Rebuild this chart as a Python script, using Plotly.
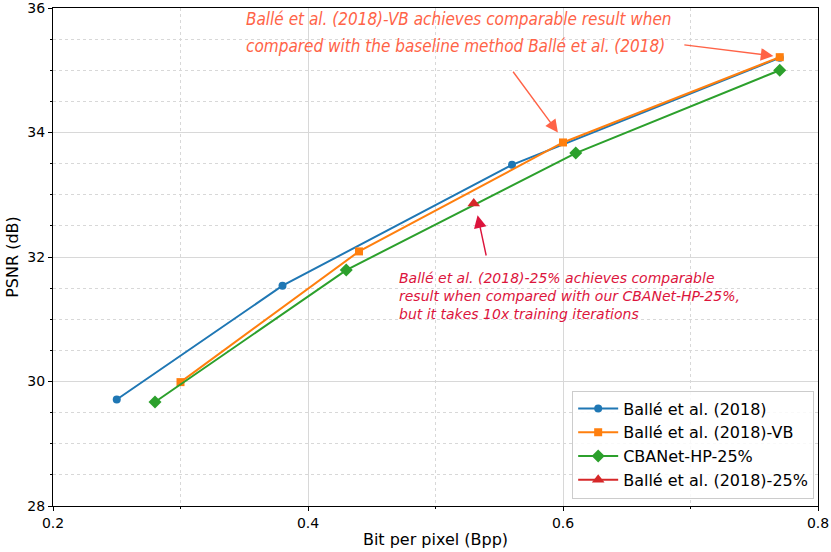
import plotly.graph_objects as go

# bit rate (bpp) / PSNR (dB)
balle_bpp = [0.25, 0.38, 0.56, 0.77]
balle_psnr = [29.71, 31.54, 33.48, 35.2]

balle_vb_bpp = [0.30, 0.44, 0.60, 0.77]
balle_vb_psnr = [29.99, 32.09, 33.84, 35.21]

cbanet_bpp = [0.28, 0.43, 0.61, 0.77]
cbanet_psnr = [29.67, 31.79, 33.67, 35.0]

balle25_bpp = [0.53]
balle25_psnr = [32.86]

names = ["Ballé et al. (2018)", "Ballé et al. (2018)-VB", "CBANet-HP-25%", "Ballé et al. (2018)-25%"]

FONT = "DejaVu Sans"
TOMATO = "#ff6347"
CRIMSON = "#dc143c"

fig = go.Figure()
fig.add_trace(go.Scatter(x=balle_bpp, y=balle_psnr, name=names[0], mode="lines+markers",
                         line=dict(color="#1f77b4", width=2), marker=dict(symbol="circle", size=8)))
fig.add_trace(go.Scatter(x=balle_vb_bpp, y=balle_vb_psnr, name=names[1], mode="lines+markers",
                         line=dict(color="#ff7f0e", width=2), marker=dict(symbol="square", size=8)))
fig.add_trace(go.Scatter(x=cbanet_bpp, y=cbanet_psnr, name=names[2], mode="lines+markers",
                         line=dict(color="#2ca02c", width=2), marker=dict(symbol="diamond", size=10)))
fig.add_trace(go.Scatter(x=balle25_bpp, y=balle25_psnr, name=names[3], mode="lines+markers",
                         line=dict(color="#d62728", width=2), marker=dict(symbol="triangle-up", size=11)))

# top annotation (two lines, two arrows)
top_lines = ["Ballé et al. (2018)-VB achieves comparable result when",
             "compared with the baseline method Ballé et al. (2018)"]
for txt, yy in zip(top_lines, [35.82, 35.39]):
    fig.add_annotation(x=0.35, y=yy, xref="x", yref="y", text=txt, showarrow=False,
                       xanchor="left", yanchor="middle",
                       font=dict(family="DejaVu Sans Condensed, " + FONT, size=17, color=TOMATO, style="italic"))
fig.add_annotation(x=0.765, y=35.23, ax=0.694, ay=35.41, xref="x", yref="y", axref="x", ayref="y",
                   text="", showarrow=True, arrowhead=2, arrowsize=1.8, arrowwidth=1.4, arrowcolor=TOMATO)
fig.add_annotation(x=0.596, y=34.0, ax=0.56, ay=35.0, xref="x", yref="y", axref="x", ayref="y",
                   text="", showarrow=True, arrowhead=2, arrowsize=1.8, arrowwidth=1.4, arrowcolor=TOMATO)

# red annotation
fig.add_annotation(x=0.47, y=31.37, xref="x", yref="y",
                   text="Ballé et al. (2018)-25% achieves comparable<br>"
                        "result when compared with our CBANet-HP-25%,<br>"
                        "but it takes 10x training iterations",
                   showarrow=False, xanchor="left", yanchor="middle", align="left",
                   font=dict(family=FONT, size=14, color=CRIMSON, style="italic"))
fig.add_annotation(x=0.533, y=32.67, ax=0.54, ay=32.0, xref="x", yref="y", axref="x", ayref="y",
                   text="", showarrow=True, arrowhead=2, arrowsize=1.8, arrowwidth=1.4, arrowcolor=CRIMSON)

axis_common = dict(showline=True, linecolor="black", linewidth=1, mirror=True,
                   ticks="outside", ticklen=4, tickcolor="black", automargin=False,
                   ticklabeloverflow="allow",
                   showgrid=True, gridcolor="#d8d8d8", gridwidth=1, zeroline=False,
                   tickfont=dict(family=FONT, size=14, color="black"))

fig.update_xaxes(range=[0.2, 0.8], dtick=0.2, tick0=0.2, tickformat=".1f",
                 title=dict(text="Bit per pixel (Bpp)", font=dict(family=FONT, size=16, color="black"), standoff=4),
                 minor=dict(dtick=0.1, ticks="outside", ticklen=2, tickcolor="black",
                            showgrid=True, gridcolor="#d8d8d8", griddash="dot"),
                 **axis_common)
fig.update_yaxes(range=[28, 36], dtick=2, tick0=28,
                 title=dict(text="PSNR (dB)", font=dict(family=FONT, size=16, color="black"), standoff=4),
                 minor=dict(dtick=0.5, ticks="outside", ticklen=2, tickcolor="black",
                            showgrid=True, gridcolor="#d8d8d8", griddash="dot"),
                 **axis_common)

fig.update_layout(
    width=831, height=552,
    margin=dict(l=53, r=13, t=8, b=46),
    plot_bgcolor="white", paper_bgcolor="white",
    font=dict(family=FONT, size=14, color="black"),
    legend=dict(x=0.995, y=0.015, xanchor="right", yanchor="bottom",
                bgcolor="rgba(255,255,255,0.85)", bordercolor="#cccccc", borderwidth=1,
                font=dict(family=FONT, size=16), itemwidth=40),
)

# drop the default page margin so the figure sits at the window's corner
fig.write_html("out.html", config={"displayModeBar": False},
               post_script="document.body.style.margin='0';")
